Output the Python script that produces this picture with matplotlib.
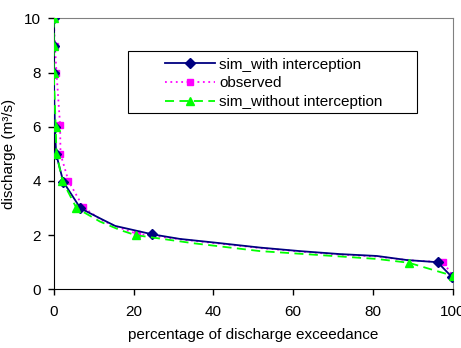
import matplotlib
matplotlib.use('Agg')
import matplotlib.pyplot as plt
from matplotlib.patches import Rectangle

plt.rcParams['font.family'] = ['Liberation Sans', 'DejaVu Sans']

# sim_with interception
with_x = [0, 0, 0, 0.3, 0.6, 2.4, 6.7, 11.6, 15.4, 24.7, 31.6, 40, 51.7, 61.7, 71.7, 81, 88.5, 96.2, 99.7]
with_y = [10, 9, 8, 6, 5, 3.97, 2.99, 2.62, 2.34, 2.03, 1.86, 1.73, 1.54, 1.41, 1.30, 1.23, 1.08, 1.0, 0.47]
with_marks = [0, 1, 2, 3, 4, 5, 6, 9, 17, 18]

# observed
obs_x = [0, 0.3, 0.7, 1.6, 1.7, 3.7, 7.4, 12, 16, 20.8, 32, 40, 52, 62, 72, 81, 89, 97.6, 100]
obs_y = [10, 9, 8, 6.06, 5, 4, 3.03, 2.55, 2.3, 2.05, 1.84, 1.71, 1.52, 1.39, 1.28, 1.21, 1.07, 1.0, 0.5]
obs_marks = [0, 1, 2, 3, 4, 5, 6, 9, 17, 18]

# sim_without interception
without_x = [0, 0, 0, 0.5, 0.7, 2.2, 5.7, 11.6, 16.6, 20.5, 35, 51.7, 65, 81, 89, 100]
without_y = [10, 9, 8, 6, 5, 4, 3, 2.5, 2.19, 2.0, 1.7, 1.41, 1.28, 1.12, 0.98, 0.5]
without_marks = [0, 1, 2, 3, 4, 5, 6, 9, 14, 15]

fig = plt.figure(figsize=(4.61, 3.48), dpi=100)
ax = fig.add_axes([0.1165, 0.1687, 0.8655, 0.7783])

ax.plot(with_x, with_y, color='#000080', lw=1.3, marker='D', ms=5,
        markevery=with_marks, label='sim_with interception', zorder=3)
ax.plot(obs_x, obs_y, color='#FF00FF', lw=1.3, ls=(0, (1, 2)), marker='s', ms=4.5,
        markevery=obs_marks, label='observed', zorder=2)
ax.plot(without_x, without_y, color='#00FF00', lw=1.3, ls=(0, (5, 3)), marker='^', ms=6,
        markevery=without_marks, label='sim_without interception', zorder=4)

ax.set_xlim(0, 100)
ax.set_ylim(0, 10)
ax.set_xticks([0, 20, 40, 60, 80, 100])
ax.set_yticks([0, 2, 4, 6, 8, 10])
ax.tick_params(direction='out', length=4, labelsize=11, width=1)
ax.tick_params(axis='x', pad=7)
ax.tick_params(axis='y', pad=5)
ax.set_xlabel('percentage of discharge exceedance', fontsize=11, labelpad=7)
ax.set_ylabel('discharge (m³/s)', fontsize=11, labelpad=6)
for s in ['top', 'right']:
    ax.spines[s].set_color('#808080')
for s in ['left', 'bottom']:
    ax.spines[s].set_color('black')

# legend frame drawn separately so the padding matches
ax.add_patch(Rectangle((0.186, 0.6505), 0.7245, 0.2285, transform=ax.transAxes,
                       facecolor='white', edgecolor='black', lw=0.8, zorder=5))
leg = ax.legend(loc='upper left', bbox_to_anchor=(0.279, 0.855), fontsize=11,
                handlelength=3.3, borderpad=0, labelspacing=0.3,
                frameon=False, borderaxespad=0, handletextpad=0.25)
leg.set_zorder(6)

fig.savefig('out.png', dpi=100)
